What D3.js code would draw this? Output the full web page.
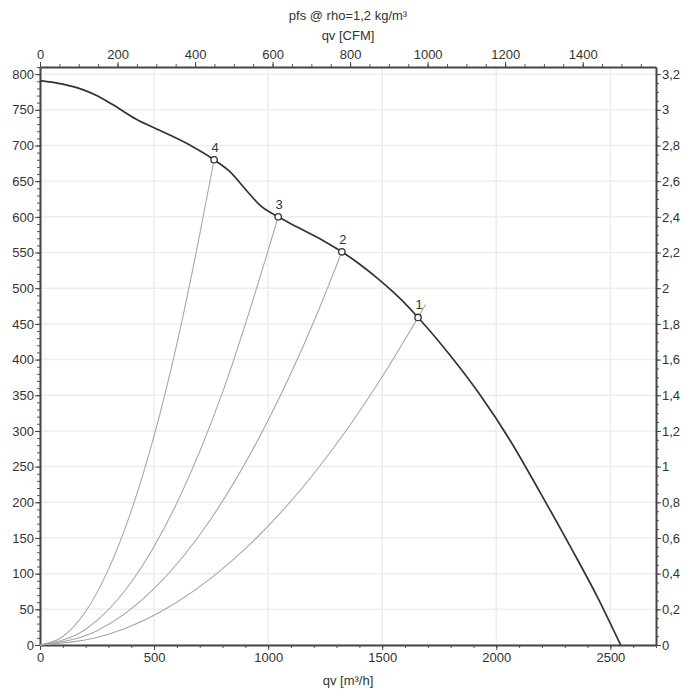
<!DOCTYPE html>
<html>
<head>
<meta charset="utf-8">
<script src="https://cdn.jsdelivr.net/npm/d3@7"></script>
<style>
  body { margin: 0; background: #fff; }
  svg text { font-family: "Liberation Sans", Arial, sans-serif; fill: #333; }
</style>
</head>
<body>
<div id="chart"></div>
<script>
// fan curve, pressure [Pa] over airflow [m3/h]
const fanFlow = [0, 100, 190, 255, 320, 420, 540, 660, 763, 830, 905, 965, 1044, 1125, 1240, 1323, 1400, 1490, 1580, 1657, 1800, 1930, 2060, 2190, 2321, 2450, 2545];
const fanPressure = [791, 786, 778, 769, 757, 737, 719, 700, 680, 664, 637, 616, 600, 586, 567, 551, 534, 511, 485, 459, 405, 350, 287, 215, 140, 63, 0];

// system curves
const sys1Flow = [0, 300, 600, 900, 1200, 1500, 1657, 1690];
const sys1Pressure = [0, 15, 60, 135, 240, 376, 459, 477];
const sys2Flow = [0, 250, 500, 750, 1000, 1200, 1323];
const sys2Pressure = [0, 20, 79, 177, 315, 453, 551];
const sys3Flow = [0, 200, 400, 600, 800, 1000, 1044];
const sys3Pressure = [0, 22, 88, 199, 354, 553, 600];
const sys4Flow = [0, 100, 200, 300, 400, 500, 600, 700, 763];
const sys4Pressure = [0, 12, 47, 106, 188, 293, 422, 575, 680];

// operating points
const pointLabels = ['1', '2', '3', '4'];
const pointFlow = [1657, 1323, 1044, 763];
const pointPressure = [459, 551, 600, 680];

const bottomTicks = [0, 500, 1000, 1500, 2000, 2500];
const topTicks = [0, 200, 400, 600, 800, 1000, 1200, 1400];
const leftTicks = d3.range(0, 801, 50);
const rightTicks = d3.range(0, 3.21, 0.2).map(d => +d.toFixed(1));

const width = 700, height = 700;
const mLeft = 40, mRight = 656, mTop = 67, mBottom = 645;

const svg = d3.select('#chart').append('svg').attr('width', width).attr('height', height);

const x = d3.scaleLinear().domain([0, 2700]).range([mLeft, mRight]);
const y = d3.scaleLinear().domain([0, 810]).range([mBottom, mTop]);
const xCfm = d3.scaleLinear().domain([0, 2700 / 1.699]).range([mLeft, mRight]);
const yInch = d3.scaleLinear().domain([0, 810 / 250]).range([mBottom, mTop]);

const plain = d => String(d);
const comma = d => String(d).replace('.', ',');

// grid
svg.append('g').selectAll('line').data(bottomTicks).enter().append('line')
  .attr('x1', d => x(d)).attr('x2', d => x(d)).attr('y1', mTop).attr('y2', mBottom)
  .attr('stroke', '#ededed').attr('stroke-width', 1.5);
svg.append('g').selectAll('line').data(leftTicks).enter().append('line')
  .attr('x1', mLeft).attr('x2', mRight).attr('y1', d => y(d)).attr('y2', d => y(d))
  .attr('stroke', '#ededed').attr('stroke-width', 1.5);

// minor ticks
function minor(axis, scale, vals, tr) {
  const g = svg.append('g').attr('transform', tr)
    .call(axis(scale).tickValues(vals).tickSize(3).tickFormat(''));
  g.select('.domain').remove();
  g.selectAll('line').attr('stroke', '#555');
}
minor(d3.axisBottom, x, d3.range(0, 2701, 100), `translate(0,${mBottom})`);
minor(d3.axisTop, xCfm, d3.range(0, 1590, 50), `translate(0,${mTop})`);
minor(d3.axisLeft, y, d3.range(0, 811, 10), `translate(${mLeft},0)`);
minor(d3.axisRight, yInch, d3.range(0, 3.24, 0.05), `translate(${mRight},0)`);

// axes
function styleAxis(g) {
  g.select('.domain').attr('stroke', '#444').attr('stroke-width', 2);
  g.selectAll('.tick line').attr('stroke', '#444');
  g.selectAll('.tick text').attr('font-size', 13).style('fill', '#333');
}
svg.append('g').attr('transform', `translate(0,${mBottom})`)
  .call(d3.axisBottom(x).tickValues(bottomTicks).tickFormat(plain).tickSize(5).tickSizeOuter(0).tickPadding(3))
  .call(styleAxis);
svg.append('g').attr('transform', `translate(0,${mTop})`)
  .call(d3.axisTop(xCfm).tickValues(topTicks).tickFormat(plain).tickSize(5).tickSizeOuter(0).tickPadding(3))
  .call(styleAxis);
svg.append('g').attr('transform', `translate(${mLeft},0)`)
  .call(d3.axisLeft(y).tickValues(leftTicks).tickFormat(plain).tickSize(5).tickSizeOuter(0).tickPadding(1))
  .call(styleAxis);
svg.append('g').attr('transform', `translate(${mRight},0)`)
  .call(d3.axisRight(yInch).tickValues(rightTicks).tickSize(5).tickSizeOuter(0).tickPadding(1).tickFormat(comma))
  .call(styleAxis);

// titles
svg.append('text').attr('x', 348).attr('y', 20).attr('text-anchor', 'middle')
  .attr('font-size', 13).text('pfs @ rho=1,2 kg/m³');
svg.append('text').attr('x', 348).attr('y', 40).attr('text-anchor', 'middle')
  .attr('font-size', 13).text('qv [CFM]');
svg.append('text').attr('x', 348).attr('y', 685).attr('text-anchor', 'middle')
  .attr('font-size', 13).text('qv [m³/h]');

// system curves
const line = d3.line().x(d => x(d[0])).y(d => y(d[1])).curve(d3.curveMonotoneX);
const systems = [
  d3.zip(sys1Flow, sys1Pressure),
  d3.zip(sys2Flow, sys2Pressure),
  d3.zip(sys3Flow, sys3Pressure),
  d3.zip(sys4Flow, sys4Pressure)
];
svg.append('g').selectAll('path').data(systems).enter().append('path')
  .attr('d', line).attr('fill', 'none').attr('stroke', '#a8a8a8').attr('stroke-width', 1.1);

// fan curve
svg.append('path').datum(d3.zip(fanFlow, fanPressure))
  .attr('d', line).attr('fill', 'none').attr('stroke', '#333').attr('stroke-width', 1.7);

// operating points
const pts = d3.zip(pointLabels, pointFlow, pointPressure);
svg.append('g').selectAll('circle').data(pts).enter().append('circle')
  .attr('cx', d => x(d[1])).attr('cy', d => y(d[2])).attr('r', 3.2)
  .attr('fill', '#fff').attr('stroke', '#333').attr('stroke-width', 1.3);
svg.append('g').selectAll('text').data(pts).enter().append('text')
  .attr('x', d => x(d[1]) + 1).attr('y', d => y(d[2]) - 8)
  .attr('text-anchor', 'middle').attr('font-size', 13).text(d => d[0]);
</script>
</body>
</html>
